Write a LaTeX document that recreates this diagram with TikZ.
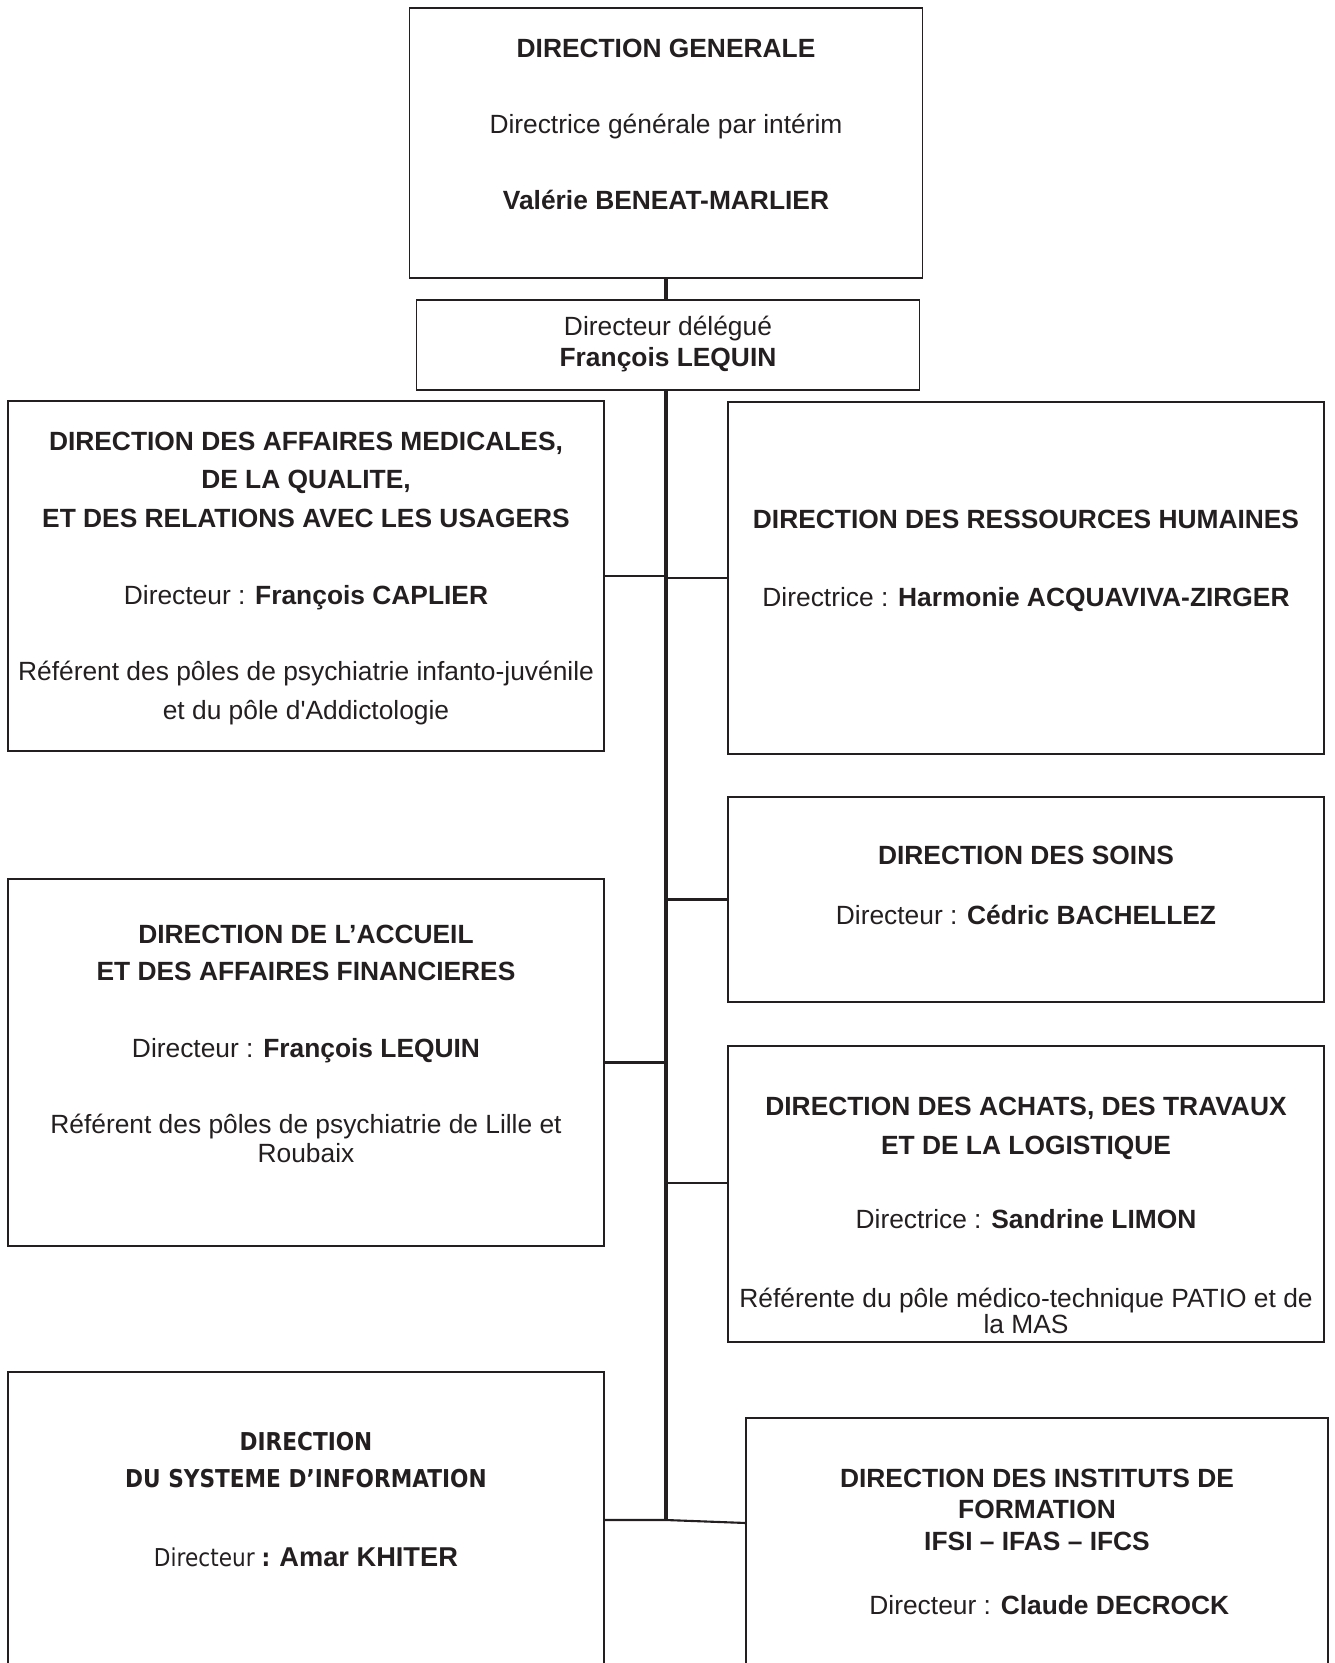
\documentclass[tikz,border=0pt]{standalone}
\usepackage{fontspec}
\setmainfont{Liberation Sans}
\newfontfamily\dsifont[FakeStretch=0.88]{DejaVu Sans}
\usepackage{tikz}
\usetikzlibrary{calc}
\definecolor{ink}{HTML}{231F20}

\begin{document}
\begin{tikzpicture}[x=0.02cm,y=-0.02cm,
    box/.style 2 args={draw=ink,line width=1.1pt,inner sep=0pt,outer sep=0pt,
      minimum width=#1*0.02cm,minimum height=#2*0.02cm},
    txt/.style={align=center,anchor=base,inner sep=0pt,text=ink,
      font=\fontsize{15}{17.5}\selectfont},
    link/.style={draw=ink,line width=1.2pt},
    spine/.style={draw=ink,line width=1.8pt}]
\useasboundingbox (0,0) rectangle (1335,1663);
\clip (0,0) rectangle (1335,1663);

\node[box={513}{270}] (dg)   at (666,143)    {};
\node[box={503}{90}]  (dlg)  at (668,345)    {};
\node[box={596}{350}] (dam)  at (306,576)    {};
\node[box={596}{352}] (drh)  at (1026,578)   {};
\node[box={596}{205}] (ds)   at (1026,899.5) {};
\node[box={596}{367}] (daf)  at (306,1062.5) {};
\node[box={596}{296}] (datl) at (1026,1194)  {};
\node[box={596}{328}] (dsi)  at (306,1536)   {};
\node[box={582}{282}] (dif)  at (1037,1559)  {};

% the base anchor sits on the last line
\node[txt] (dgt) at ($(dg.north)+(0,201)$)
  {\textbf{DIRECTION GENERALE}\\[26pt]
   Directrice générale par intérim\\[25.5pt]
   \textbf{Valérie BENEAT-MARLIER}};
\node[txt] (dlgt) at ($(dlg.north)+(0,66.4)$)
  {Directeur délégué\\ \textbf{François LEQUIN}};
\node[txt] (damt) at ($(dam.north)+(0,318)$)
  {\textbf{DIRECTION DES AFFAIRES MEDICALES,}\\[4.5pt]
   \textbf{DE LA QUALITE,}\\[4.5pt]
   \textbf{ET DES RELATIONS AVEC LES USAGERS}\\[26.5pt]
   Directeur : \textbf{François CAPLIER}\\[25.5pt]
   Référent des pôles de psychiatrie infanto-juvénile\\[4.5pt]
   et du pôle d\textquotesingle Addictologie};
\node[txt] (drht) at ($(drh.north)+(0,204)$)
  {\textbf{DIRECTION DES RESSOURCES HUMAINES}\\[26.4pt]
   Directrice : \textbf{Harmonie ACQUAVIVA-ZIRGER}};
\node[txt] (dst) at ($(ds.north)+(0,127)$)
  {\textbf{DIRECTION DES SOINS}\\[16.5pt]
   Directeur : \textbf{Cédric BACHELLEZ}};
\node[txt] (daft) at ($(daf.north)+(0,283)$)
  {\textbf{DIRECTION DE L’ACCUEIL}\\[3.5pt]
   \textbf{ET DES AFFAIRES FINANCIERES}\\[26.5pt]
   Directeur : \textbf{François LEQUIN}\\[26pt]
   Référent des pôles de psychiatrie de Lille et\\[-1.5pt]
   Roubaix};
\node[txt] (datlt) at ($(datl.north)+(0,287.5)$)
  {\textbf{DIRECTION DES ACHATS, DES TRAVAUX}\\[4.5pt]
   \textbf{ET DE LA LOGISTIQUE}\\[25pt]
   Directrice : \textbf{Sandrine LIMON}\\[27pt]
   Référente du pôle médico-technique PATIO et de\\[-2.5pt]
   la MAS};
\node[txt,font=\dsifont\fontsize{14}{17}\selectfont] (dsit) at ($(dsi.north)+(0,194)$)
  {\textbf{DIRECTION}\\[4pt]
   \textbf{DU SYSTEME D’INFORMATION}\\[27.8pt]
   Directeur \textbf{:} {\rmfamily\bfseries\fontsize{15.5}{17}\selectfont Amar KHITER}};
\node[txt] (dift) at ($(dif.north)+(0,196.5)$)
  {\textbf{DIRECTION DES INSTITUTS DE}\\
   \textbf{FORMATION}\\[0.6pt]
   \textbf{IFSI – IFAS – IFCS}\\[19pt]
   \hspace*{14pt}Directeur : \textbf{Claude DECROCK}};

\coordinate (bot) at (666,1520);
\coordinate (datlin) at ($(datl.north west)+(0,137)$);
\coordinate (dsiout) at ($(dsi.north east)+(0,148)$);
\coordinate (difin) at ($(dif.north west)+(0,105)$);

\draw[spine] (dg.south) -- (dg.south |- dlg.north);
\draw[spine] (dg.south |- dlg.south) -- (bot);
\draw[link] (dam.east) -- (dam.east -| bot);
\draw[link] (bot |- drh.west) -- (drh.west);
\draw[link] (bot |- ds.west) -- (ds.west);
\draw[link] (daf.east) -- (daf.east -| bot);
\draw[link] (bot |- datlin) -- (datlin);
\draw[link] (dsiout) -- (bot) -- (difin);
\end{tikzpicture}
\end{document}
